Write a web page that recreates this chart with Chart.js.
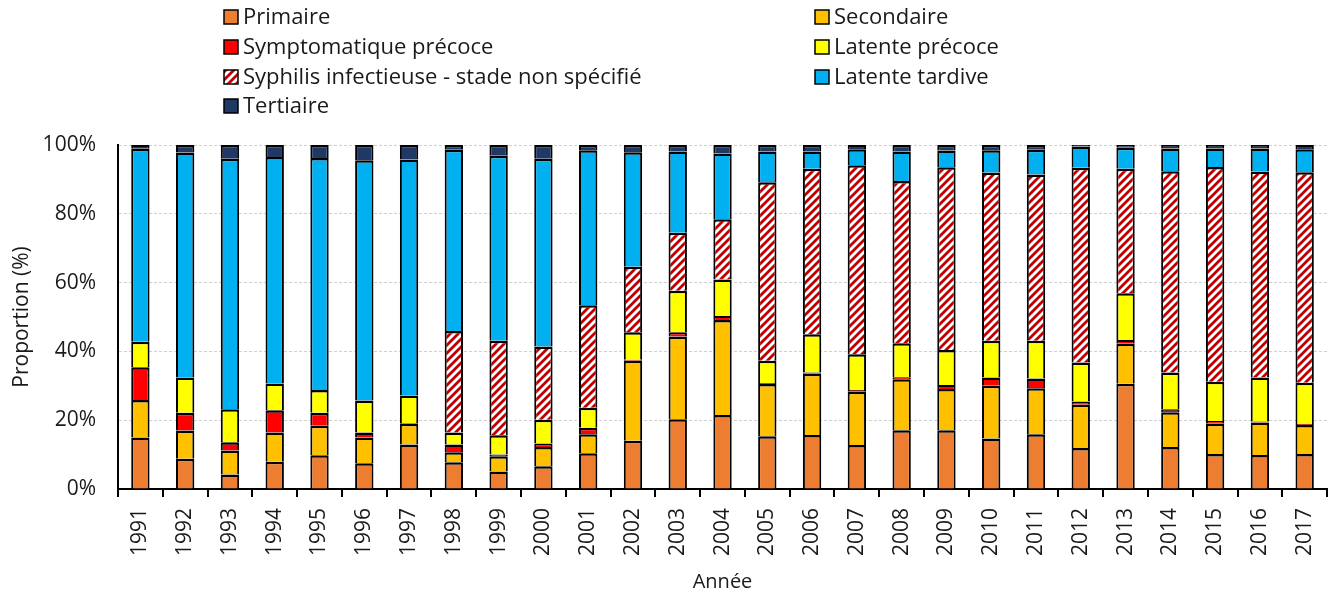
<!DOCTYPE html>
<html lang="fr">
<head>
<meta charset="utf-8">
<title>Syphilis - proportion par stade</title>
<script src="https://cdn.jsdelivr.net/npm/chart.js@4.4.1/dist/chart.umd.min.js"></script>
<style>
  html, body { margin: 0; padding: 0; background: #fff; }
  #wrap { width: 1341px; height: 595px; position: relative; }
</style>
</head>
<body>
<div id="wrap"><canvas id="chart"></canvas></div>
<script>
const years = ['1991','1992','1993','1994','1995','1996','1997','1998','1999','2000','2001','2002','2003','2004',
               '2005','2006','2007','2008','2009','2010','2011','2012','2013','2014','2015','2016','2017'];

// proportions (%), bottom of the stack first
const primaire      = [15.0, 8.8, 4.2, 7.9, 9.8, 7.5, 12.9, 7.8, 5.1, 6.6, 10.4, 14.0, 20.3, 21.5,
                       15.3, 15.7, 12.8, 17.1, 17.1, 14.7, 15.9, 11.9, 30.6, 12.2, 10.2, 9.9, 10.2];
const secondaire    = [10.9, 8.2, 7.0, 8.5, 8.6, 7.5, 6.1, 2.9, 4.4, 5.6, 5.5, 23.3, 24.0, 27.6,
                       15.2, 17.8, 15.5, 14.8, 12.0, 15.3, 13.4, 12.6, 11.6, 10.1, 8.8, 9.4, 8.4];
const symptomatique = [9.5, 5.2, 2.4, 6.5, 3.8, 1.4, 0.2, 2.2, 0.5, 1.0, 1.9, 0.3, 1.3, 1.2,
                       0.3, 0.4, 0.5, 0.6, 1.1, 2.4, 2.8, 0.9, 1.1, 0.9, 0.8, 0.3, 0.3];
const latPrecoce    = [7.4, 10.2, 9.6, 7.8, 6.6, 9.3, 8.0, 3.5, 5.6, 6.9, 5.8, 8.0, 12.0, 10.6,
                       6.5, 11.1, 10.4, 9.9, 10.2, 10.7, 11.0, 11.4, 13.6, 10.7, 11.4, 12.8, 12.0];
const nonSpecifie   = [0, 0, 0, 0, 0, 0, 0, 29.5, 27.5, 21.3, 29.8, 19.0, 16.9, 17.5,
                       51.9, 48.1, 54.9, 47.1, 53.1, 48.9, 48.3, 56.6, 36.2, 58.5, 62.4, 59.9, 61.2];
const latTardive    = [56.1, 65.4, 72.8, 65.8, 67.4, 69.9, 68.6, 52.7, 53.8, 54.6, 45.1, 33.3, 23.6, 19.1,
                       8.9, 5.0, 4.7, 8.6, 4.9, 6.5, 7.2, 6.2, 6.1, 6.6, 5.4, 6.7, 6.7];
const tertiaire     = [1.1, 2.2, 4.0, 3.5, 3.8, 4.4, 4.2, 1.4, 3.1, 4.0, 1.5, 2.1, 1.9, 2.5,
                       1.9, 1.9, 1.2, 1.9, 1.6, 1.5, 1.4, 0.4, 0.8, 1.0, 1.0, 1.0, 1.2];

const yTicks = [0, 20, 40, 60, 80, 100];

const FONT = '"Open Sans", "Liberation Sans", sans-serif';
const TEXT = '#1a1a1a';

// red diagonal hatching for the unspecified stage
function hatch() {
  const c = document.createElement('canvas');
  c.width = 8; c.height = 8;
  const g = c.getContext('2d');
  g.fillStyle = '#fff';
  g.fillRect(0, 0, 8, 8);
  g.strokeStyle = '#C00000';
  g.lineWidth = 2.8;
  g.beginPath();
  g.moveTo(-1, 1); g.lineTo(1, -1);
  g.moveTo(-1, 9); g.lineTo(9, -1);
  g.moveTo(7, 9); g.lineTo(9, 7);
  g.stroke();
  return g.createPattern(c, 'repeat');
}

function ds(label, data, color) {
  return {
    label, data,
    backgroundColor: color,
    borderColor: '#000',
    borderWidth: { top: 2.5, left: 2, right: 2, bottom: 0 },
    borderSkipped: false,
    barPercentage: 0.41,
    categoryPercentage: 1
  };
}

// two-column legend drawn above the plot
const legendCols = [224, 815];
const legendRows = [17, 47, 77, 106];
const gridLegend = {
  id: 'gridLegend',
  afterDraw(chart) {
    const ctx = chart.ctx;
    ctx.save();
    ctx.font = '22px ' + FONT;
    ctx.textBaseline = 'middle';
    chart.data.datasets.forEach((d, i) => {
      const x = legendCols[i % 2];
      const y = legendRows[Math.floor(i / 2)];
      ctx.fillStyle = d.backgroundColor;
      ctx.fillRect(x, y - 7, 14, 14);
      ctx.strokeStyle = '#000';
      ctx.lineWidth = 1.5;
      ctx.strokeRect(x, y - 7, 14, 14);
      ctx.fillStyle = TEXT;
      ctx.fillText(d.label, x + 19, y + 1);
    });
    ctx.restore();
  }
};

new Chart(document.getElementById('chart'), {
  type: 'bar',
  data: {
    labels: years,
    datasets: [
      ds('Primaire', primaire, '#ED7D31'),
      ds('Secondaire', secondaire, '#FFC000'),
      ds('Symptomatique précoce', symptomatique, '#FF0000'),
      ds('Latente précoce', latPrecoce, '#FFFF00'),
      ds('Syphilis infectieuse - stade non spécifié', nonSpecifie, hatch()),
      ds('Latente tardive', latTardive, '#00B0F0'),
      ds('Tertiaire', tertiaire, '#1F3864')
    ]
  },
  options: {
    responsive: true,
    maintainAspectRatio: false,
    animation: false,
    layout: { padding: { top: 145, right: 7, left: 0, bottom: 0 } },
    plugins: {
      legend: { display: false },
      tooltip: { enabled: false }
    },
    scales: {
      x: {
        stacked: true,
        afterFit(s) { s.height = 106; },
        grid: { drawOnChartArea: false, offset: true, tickLength: 8, color: '#000', lineWidth: 2 },
        border: { color: '#000', width: 2 },
        ticks: {
          color: TEXT, font: { family: FONT, size: 21 },
          maxRotation: 90, minRotation: 90, padding: 11, autoSkip: false
        },
        title: { display: true, text: 'Année', color: TEXT, font: { family: FONT, size: 20 }, padding: { top: 0, bottom: 1 } }
      },
      y: {
        stacked: true,
        min: 0, max: 100,
        afterFit(s) { s.width = 118; },
        afterBuildTicks(s) { s.ticks = yTicks.map(v => ({ value: v })); },
        grid: { color: '#D0D0D0', lineWidth: 1, drawTicks: false },
        border: { color: '#000', width: 2, dash: [3, 2] },
        ticks: {
          color: TEXT, font: { family: FONT, size: 21 }, padding: 22,
          callback: v => v + '%'
        },
        title: { display: true, text: 'Proportion (%)', color: TEXT, font: { family: FONT, size: 21 }, padding: { top: 9, bottom: 0 } }
      }
    }
  },
  plugins: [gridLegend]
});
</script>
</body>
</html>
